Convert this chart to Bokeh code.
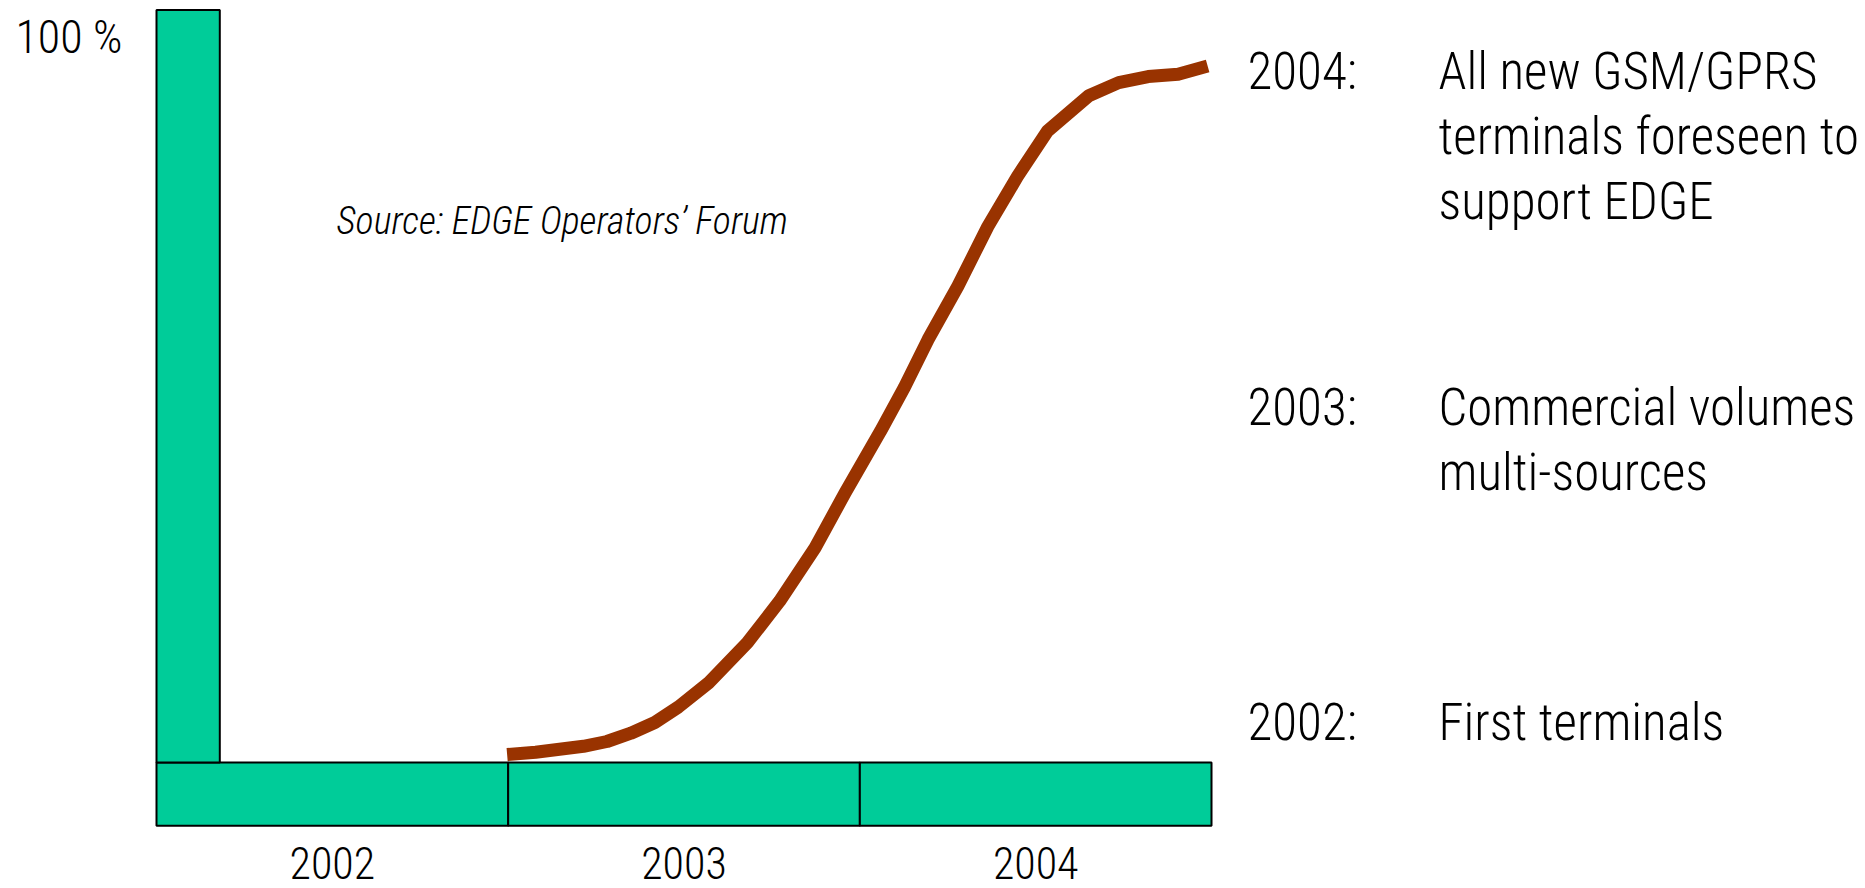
from bokeh.plotting import figure
from bokeh.models import ColumnDataSource
from bokeh.core.properties import value
from bokeh.embed import file_html
from bokeh.resources import INLINE

# ---- data ----
years = ["2002", "2003", "2004"]
year_start = [2002, 2003, 2004]
bar_depth = 8.4          # thickness of the time bar (in % units, below 0)
axis_bar_width = 0.18    # width of the vertical 100 % bar (in years)
y_max = 100

curve_x = [2002.997, 2003.078, 2003.214, 2003.281, 2003.349, 2003.417, 2003.484,
           2003.569, 2003.680, 2003.772, 2003.873, 2003.958, 2004.059, 2004.127,
           2004.194, 2004.279, 2004.364, 2004.448, 2004.533, 2004.651, 2004.736,
           2004.820, 2004.905, 2004.989]
curve_y = [1.05, 1.37, 2.15, 2.79, 3.89, 5.32, 7.38, 10.54, 15.91, 21.45, 28.56,
           35.83, 44.04, 49.89, 56.21, 63.32, 71.23, 77.87, 83.88, 88.61, 90.35,
           91.15, 91.47, 92.57]

milestone_years = ["2004:", "2003:", "2002:"]
milestone_lines = [
    ["All new GSM/GPRS", "terminals foreseen to", "support EDGE"],
    ["Commercial volumes", "multi-sources"],
    ["First terminals"],
]
y_label = "100 %"
source_text = "Source: EDGE Operators\u2019 Forum"

# ---- layout helpers (pixel -> data) ----
W, H = 1865, 888
PX_PER_YEAR = 351.67
PX_PER_PCT = 7.525
X0_PX, Y0_PX = 156, 762
x_start = 2002 - X0_PX / PX_PER_YEAR
x_end = x_start + W / PX_PER_YEAR
y_end = Y0_PX / PX_PER_PCT
y_start = (Y0_PX - H) / PX_PER_PCT

def X(px):
    return x_start + px / PX_PER_YEAR

def Y(px):
    return (Y0_PX - px) / PX_PER_PCT

FONT = "'Roboto Condensed Light', 'Roboto Condensed', sans-serif"
GREEN = "#00CC99"
BROWN = "#993300"

p = figure(width=W, height=H, x_range=(x_start, x_end), y_range=(y_start, y_end),
           output_backend="svg", toolbar_location=None, min_border=0)
p.axis.visible = False
p.grid.visible = False
p.outline_line_color = None
p.background_fill_color = "white"
p.border_fill_color = "white"

# time bar segments
seg = ColumnDataSource(dict(left=year_start, right=[y + 1 for y in year_start],
                            top=[0] * len(years), bottom=[-bar_depth] * len(years)))
p.quad(left="left", right="right", top="top", bottom="bottom", source=seg,
       fill_color=GREEN, line_color="black", line_width=2)

# vertical 100 % bar
p.quad(left=[year_start[0]], right=[year_start[0] + axis_bar_width], bottom=[0], top=[y_max],
       fill_color=GREEN, line_color="black", line_width=2)

# adoption curve
p.line(curve_x, curve_y, line_color=BROWN, line_width=13, line_cap="butt", line_join="round")

# year labels under the bar
p.text(x=[y + 0.5 for y in year_start], y=[Y(862)] * len(years), text=years,
       text_font=value(FONT), text_font_size="44px", text_align="center",
       text_baseline="middle", text_color="black")

# 100 % label
p.text(x=[X(15)], y=[Y(36)], text=[y_label], text_font=value(FONT), text_font_size="46px",
       text_align="left", text_baseline="middle", text_color="black")

# source
p.text(x=[X(336)], y=[Y(220)], text=[source_text], text_font=value(FONT),
       text_font_size="38px", text_font_style="italic", text_align="left",
       text_baseline="middle", text_color="black")

# milestones
group_top = [71, 407, 722]
line_gap = 65
yr_x, yr_y, ln_x, ln_y, ln_t = [], [], [], [], []
for yr, lines, top in zip(milestone_years, milestone_lines, group_top):
    yr_x.append(X(1247)); yr_y.append(Y(top))
    for i, t in enumerate(lines):
        ln_x.append(X(1438)); ln_y.append(Y(top + i * line_gap)); ln_t.append(t)

p.text(x=yr_x, y=yr_y, text=milestone_years, text_font=value(FONT), text_font_size="51px",
       text_align="left", text_baseline="middle", text_color="black")
p.text(x=ln_x, y=ln_y, text=ln_t, text_font=value(FONT), text_font_size="51px",
       text_align="left", text_baseline="middle", text_color="black")

open("out.html", "w").write(file_html(p, INLINE))
